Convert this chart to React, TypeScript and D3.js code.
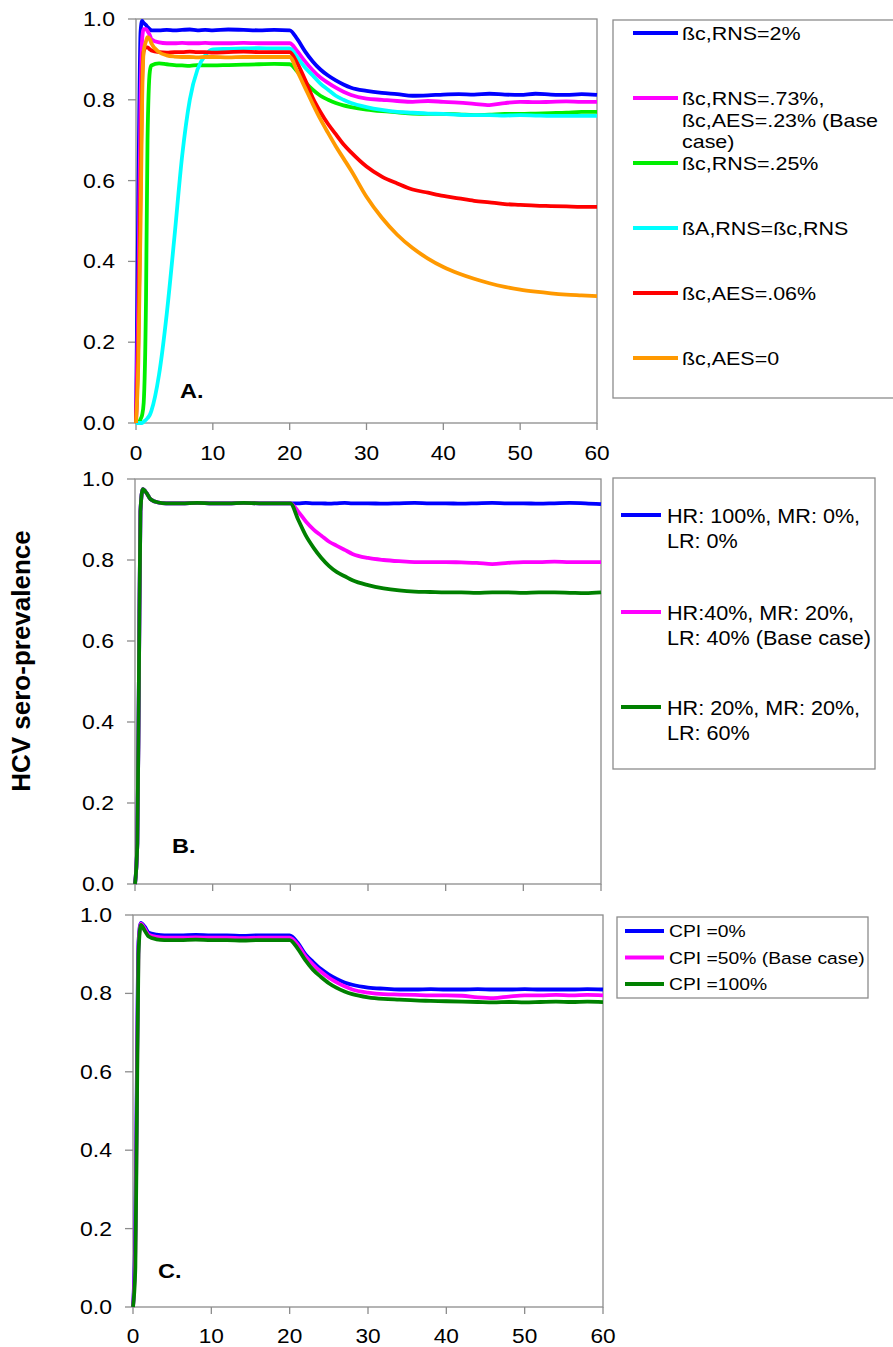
import React from "react";
import * as d3 from "d3";

// ---------- DATA ----------
const timeA = [0, 0.3, 0.6, 0.8, 1, 1.3, 1.5, 1.8, 2, 3, 4, 5, 6, 7, 8, 9, 10, 12, 14, 16, 18, 20, 21, 22, 23, 24, 25, 26, 27, 28, 30, 32, 34, 36, 38, 40, 42, 44, 46, 48, 50, 52, 54, 56, 58, 60];

const aBlue = [0, 0.55, 0.97, 0.995, 0.99, 0.985, 0.98, 0.975, 0.972, 0.972, 0.973, 0.972, 0.973, 0.974, 0.972, 0.973, 0.972, 0.974, 0.973, 0.972, 0.973, 0.972,
  0.95, 0.92, 0.895, 0.875, 0.86, 0.848, 0.838, 0.83, 0.822, 0.817, 0.814, 0.81, 0.811, 0.813, 0.814, 0.813, 0.815, 0.813, 0.812, 0.815, 0.813, 0.812, 0.814, 0.812];
const aMagenta = [0, 0.3, 0.8, 0.95, 0.975, 0.975, 0.97, 0.96, 0.95, 0.942, 0.94, 0.94, 0.941, 0.94, 0.94, 0.941, 0.94, 0.94, 0.941, 0.94, 0.94, 0.94,
  0.92, 0.895, 0.873, 0.855, 0.842, 0.83, 0.82, 0.812, 0.803, 0.8, 0.797, 0.795, 0.797, 0.795, 0.793, 0.79, 0.787, 0.792, 0.795, 0.794, 0.795, 0.796, 0.795, 0.795];
const aGreen = [0, 0, 0.01, 0.02, 0.05, 0.3, 0.7, 0.87, 0.885, 0.89, 0.888, 0.886, 0.885, 0.884, 0.886, 0.885, 0.885, 0.886, 0.887, 0.888, 0.889, 0.888,
  0.87, 0.845, 0.825, 0.81, 0.8, 0.792, 0.786, 0.782, 0.776, 0.772, 0.769, 0.766, 0.765, 0.765, 0.764, 0.762, 0.763, 0.765, 0.765, 0.766, 0.767, 0.768, 0.77, 0.77];
const aCyan = [0, 0, 0, 0, 0.003, 0.008, 0.012, 0.02, 0.03, 0.12, 0.27, 0.46, 0.66, 0.8, 0.875, 0.91, 0.925, 0.926, 0.927, 0.928, 0.927, 0.927,
  0.905, 0.88, 0.86, 0.84, 0.825, 0.81, 0.8, 0.792, 0.782, 0.775, 0.77, 0.768, 0.766, 0.765, 0.763, 0.762, 0.762, 0.761, 0.762, 0.761, 0.76, 0.76, 0.76, 0.76];
const aRed = [0, 0.2, 0.6, 0.85, 0.92, 0.93, 0.93, 0.925, 0.922, 0.918, 0.917, 0.918, 0.918, 0.919, 0.918, 0.918, 0.917, 0.918, 0.919, 0.918, 0.918, 0.918,
  0.89, 0.85, 0.805, 0.77, 0.74, 0.715, 0.69, 0.67, 0.635, 0.61, 0.593, 0.578, 0.57, 0.562, 0.556, 0.55, 0.546, 0.542, 0.54, 0.538, 0.537, 0.536, 0.535, 0.535];
const aOrange = [0, 0.15, 0.5, 0.8, 0.92, 0.945, 0.955, 0.95, 0.94, 0.918, 0.91, 0.907, 0.906, 0.906, 0.905, 0.906, 0.906, 0.905, 0.906, 0.906, 0.906, 0.906,
  0.87, 0.83, 0.79, 0.752, 0.718, 0.685, 0.655, 0.625, 0.56, 0.508, 0.466, 0.433, 0.407, 0.386, 0.37, 0.357, 0.346, 0.337, 0.33, 0.325, 0.321, 0.318, 0.316, 0.314];

const timeBC = [0, 0.3, 0.5, 0.7, 1, 1.5, 2, 3, 4, 6, 8, 10, 12, 14, 16, 18, 20, 21, 22, 23, 24, 25, 26, 27, 28, 30, 32, 34, 36, 38, 40, 42, 44, 46, 48, 50, 52, 54, 56, 58, 60];

const bBlue = [0, 0.1, 0.5, 0.92, 0.975, 0.965, 0.95, 0.942, 0.94, 0.94, 0.941, 0.94, 0.94, 0.941, 0.94, 0.94, 0.94,
  0.94, 0.941, 0.94, 0.94, 0.939, 0.94, 0.941, 0.94, 0.94, 0.939, 0.94, 0.941, 0.94, 0.94, 0.939, 0.94, 0.941, 0.94, 0.94, 0.939, 0.94, 0.941, 0.94, 0.938];
const bMagenta = [0, 0.1, 0.5, 0.92, 0.975, 0.965, 0.95, 0.942, 0.94, 0.94, 0.941, 0.94, 0.94, 0.941, 0.94, 0.94, 0.94,
  0.92, 0.895, 0.875, 0.86, 0.845, 0.835, 0.825, 0.815, 0.805, 0.8, 0.797, 0.795, 0.795, 0.795, 0.794, 0.793, 0.79, 0.793, 0.795, 0.795, 0.796, 0.795, 0.795, 0.795];
const bGreen = [0, 0.1, 0.5, 0.92, 0.975, 0.965, 0.95, 0.942, 0.94, 0.94, 0.941, 0.94, 0.94, 0.941, 0.94, 0.94, 0.94,
  0.9, 0.86, 0.83, 0.805, 0.785, 0.77, 0.76, 0.75, 0.738, 0.73, 0.725, 0.722, 0.721, 0.72, 0.72, 0.719, 0.72, 0.72, 0.719, 0.72, 0.72, 0.719, 0.718, 0.72];

const cBlue = [0, 0.2, 0.6, 0.93, 0.98, 0.97, 0.955, 0.95, 0.948, 0.948, 0.949, 0.948, 0.948, 0.947, 0.948, 0.948, 0.948,
  0.93, 0.9, 0.88, 0.862, 0.848, 0.837, 0.828, 0.822, 0.815, 0.812, 0.81, 0.81, 0.811, 0.81, 0.81, 0.811, 0.81, 0.81, 0.811, 0.81, 0.81, 0.81, 0.811, 0.81];
const cMagenta = [0, 0.15, 0.55, 0.92, 0.978, 0.965, 0.95, 0.944, 0.942, 0.942, 0.943, 0.942, 0.942, 0.941, 0.942, 0.942, 0.942,
  0.925, 0.895, 0.873, 0.855, 0.84, 0.828, 0.818, 0.81, 0.802, 0.798, 0.797, 0.796, 0.795, 0.795, 0.794, 0.79, 0.788, 0.792, 0.795, 0.795, 0.796, 0.795, 0.796, 0.795];
const cGreen = [0, 0.1, 0.5, 0.9, 0.975, 0.96, 0.945, 0.938, 0.936, 0.936, 0.937, 0.936, 0.936, 0.935, 0.936, 0.936, 0.936,
  0.915, 0.885, 0.86, 0.842, 0.826, 0.814, 0.805, 0.798, 0.79, 0.786, 0.784, 0.782, 0.781, 0.78, 0.779, 0.778, 0.777, 0.778, 0.777, 0.778, 0.779, 0.778, 0.779, 0.778];

const xTicks = [0, 10, 20, 30, 40, 50, 60];
const yTicks = [0, 0.2, 0.4, 0.6, 0.8, 1.0];

const legendA = [
  ["ßc,RNS=2%"],
  ["ßc,RNS=.73%,", "ßc,AES=.23% (Base", "case)"],
  ["ßc,RNS=.25%"],
  ["ßA,RNS=ßc,RNS"],
  ["ßc,AES=.06%"],
  ["ßc,AES=0"],
];
const legendB = [
  ["HR: 100%, MR: 0%,", "LR: 0%"],
  ["HR:40%, MR: 20%,", "LR: 40% (Base case)"],
  ["HR: 20%, MR: 20%,", "LR: 60%"],
];
const legendC = ["CPI =0%", "CPI =50% (Base case)", "CPI =100%"];
const yAxisTitle = "HCV sero-prevalence";

// ---------- STYLE ----------
const FONT = "'Liberation Sans', Arial, sans-serif";
const AXIS = "#8c8c8c";
const colorsA = ["#0000ff", "#ff00ff", "#00ee00", "#00ffff", "#ff0000", "#ff9900"];
const colorsBC = ["#0000ff", "#ff00ff", "#008000"];

type Panel = {
  x0: number; x1: number; y0: number; y1: number; boxRight: number;
  series: number[][]; time: number[]; colors: string[];
  label: string; labelX: number; labelY: number; xLabels: boolean; xLabelY: number;
};

const panels: Panel[] = [
  { x0: 136, x1: 597, y0: 423, y1: 19, boxRight: 597, series: [aBlue, aMagenta, aGreen, aCyan, aRed, aOrange], time: timeA, colors: colorsA, label: "A.", labelX: 180, labelY: 398, xLabels: true, xLabelY: 460 },
  { x0: 135, x1: 601, y0: 884, y1: 479, boxRight: 601, series: [bBlue, bMagenta, bGreen], time: timeBC, colors: colorsBC, label: "B.", labelX: 172, labelY: 853, xLabels: false, xLabelY: 0 },
  { x0: 133, x1: 603, y0: 1307, y1: 915, boxRight: 603, series: [cBlue, cMagenta, cGreen], time: timeBC, colors: colorsBC, label: "C.", labelX: 158, labelY: 1278, xLabels: true, xLabelY: 1343 },
];

function PanelView({ p }: { p: Panel }) {
  const x = d3.scaleLinear().domain([0, 60]).range([p.x0, p.x1]);
  const y = d3.scaleLinear().domain([0, 1]).range([p.y0, p.y1]);
  const line = d3.line<[number, number]>().x((d) => x(d[0])).y((d) => y(d[1])).curve(d3.curveMonotoneX);
  return (
    <g>
      <rect x={p.x0} y={p.y1} width={p.boxRight - p.x0} height={p.y0 - p.y1} fill="none" stroke={AXIS} strokeWidth={1.3} />
      {yTicks.map((t) => (
        <g key={"y" + t}>
          <line x1={p.x0 - 8} x2={p.x0} y1={y(t)} y2={y(t)} stroke={AXIS} strokeWidth={1.3} />
          <text transform={`translate(${p.x0 - 21},${y(t) + 7}) scale(1.15,1)`} textAnchor="end" fontSize={20} fontFamily={FONT} fill="#000">{t.toFixed(1)}</text>
        </g>
      ))}
      {xTicks.map((t) => (
        <g key={"x" + t}>
          <line x1={x(t)} x2={x(t)} y1={p.y0} y2={p.y0 + 7} stroke={AXIS} strokeWidth={1.3} />
          {p.xLabels && (
            <text transform={`translate(${x(t)},${p.xLabelY}) scale(1.08,1)`} textAnchor="middle" fontSize={21} fontFamily={FONT} fill="#000">{t}</text>
          )}
        </g>
      ))}
      {p.series.map((s, i) => (
        <path key={i} d={line(p.time.map((t, j) => [t, s[j]] as [number, number])) || ""} fill="none" stroke={p.colors[i]} strokeWidth={3.8} strokeLinejoin="round" />
      ))}
      <text transform={`translate(${p.labelX},${p.labelY}) scale(1.12,1)`} fontSize={21} fontWeight="bold" fontFamily={FONT} fill="#000">{p.label}</text>
    </g>
  );
}

export default function App() {
  return (
    <svg width={893} height={1347} style={{ display: "block", position: "absolute", left: 0, top: 0, background: "#fff" }}>
      <rect x={0} y={0} width={893} height={1347} fill="#fff" />
      {panels.map((p, i) => <PanelView key={i} p={p} />)}

      {/* Legend A */}
      <rect x={613} y={20} width={300} height={378} fill="none" stroke={AXIS} strokeWidth={1.3} />
      {legendA.map((lines, i) => {
        const ly = 33 + i * 65;
        return (
          <g key={i}>
            <line x1={633} x2={678} y1={ly} y2={ly} stroke={colorsA[i]} strokeWidth={4} />
            {lines.map((t, k) => (
              <text key={k} transform={`translate(682,${ly + 7 + k * 21.5}) scale(1.16,1)`} fontSize={18.5} fontFamily={FONT} fill="#000">{t}</text>
            ))}
          </g>
        );
      })}

      {/* Legend B */}
      <rect x={613} y={478} width={262} height={291} fill="none" stroke={AXIS} strokeWidth={1.3} />
      {legendB.map((lines, i) => {
        const ly = [515, 612, 707][i];
        return (
          <g key={i}>
            <line x1={621} x2={661} y1={ly} y2={ly} stroke={colorsBC[i]} strokeWidth={4} />
            {lines.map((t, k) => (
              <text key={k} transform={`translate(667,${ly + 7.5 + k * 25}) scale(1.08,1)`} fontSize={20} fontFamily={FONT} fill="#000">{t}</text>
            ))}
          </g>
        );
      })}

      {/* Legend C */}
      <rect x={617} y={917} width={251} height={81} fill="none" stroke={AXIS} strokeWidth={1.3} />
      {legendC.map((t, i) => {
        const ly = 931 + i * 26.5;
        return (
          <g key={i}>
            <line x1={625} x2={664} y1={ly} y2={ly} stroke={colorsBC[i]} strokeWidth={4} />
            <text transform={`translate(669,${ly + 6}) scale(1.17,1)`} fontSize={16.5} fontFamily={FONT} fill="#000">{t}</text>
          </g>
        );
      })}

      <text transform="translate(30,661) rotate(-90)" textAnchor="middle" fontSize={26} fontWeight="bold" fontFamily={FONT} fill="#000">{yAxisTitle}</text>
    </svg>
  );
}
